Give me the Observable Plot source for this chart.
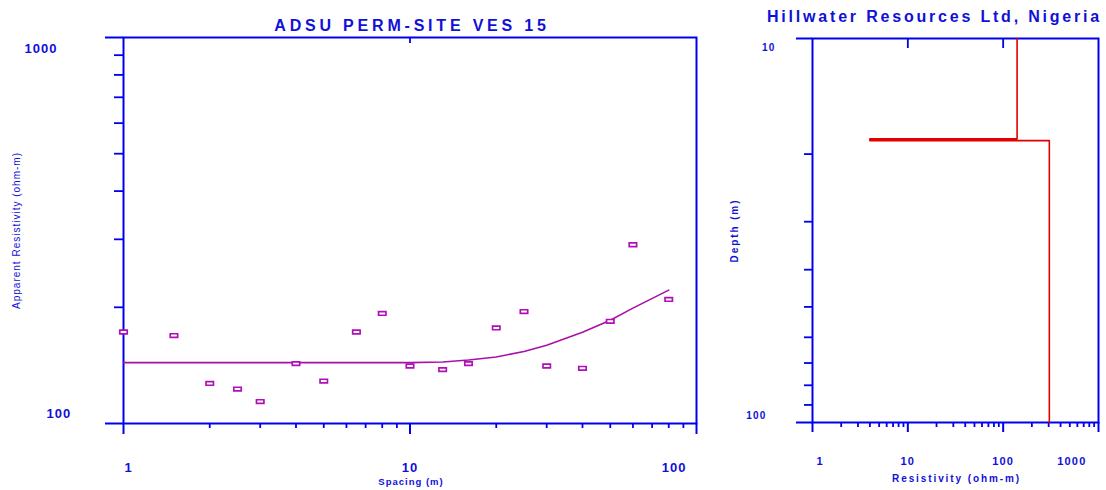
<!DOCTYPE html>
<html>
<head>
<meta charset="utf-8">
<script src="https://cdn.jsdelivr.net/npm/d3@7"></script>
<script src="https://cdn.jsdelivr.net/npm/@observablehq/plot@0.6"></script>
<style>
  html, body { margin: 0; padding: 0; background: #fff; }
  #chart { position: relative; width: 1106px; height: 490px; overflow: hidden; }
  #chart svg { position: absolute; top: 0; }
</style>
</head>
<body>
<div id="chart"></div>
<script>
// ---- Sounding curve: field readings (AB/2 spacing, apparent resistivity) ----
const spacing     = [1, 1.5, 2, 2.5, 3, 4, 5, 6.5, 8, 10, 13, 16, 20, 25, 30, 40, 50, 60, 80];
const apparentRho = [172.6, 169, 127, 122.8, 114, 142.9, 128.8, 172.6, 192.8, 140.9,
                     137.9, 142.9, 176.8, 195, 140.9, 139, 184, 290.5, 209.6];

// ---- Model response curve ----
const modelSpacing = [1, 10, 13, 16, 20, 25, 30, 40, 50, 60, 80];
const modelRho     = [143.8, 143.8, 144.3, 146, 148.7, 153.6, 159.5, 172.3, 185.2, 199, 221.6];

// ---- Layered earth model (resistivity per layer, depth to base of each layer) ----
const layerResistivity = [140, 4, 305];
const layerBase        = [18.25, 18.45];
const depthRange       = [10, 100];

// ---- Axis ticks and labels ----
const spacingMajor  = [1, 10, 100];
const spacingMinor  = [2, 3, 4, 5, 6, 7, 8, 9, 20, 30, 40, 50, 60, 70, 80, 90];
const spacingLabels = ["1", "10", "100"];
const spacingTop    = [10];
const rhoMajor      = [100, 1000];
const rhoMinor      = [200, 300, 400, 500, 600, 700, 800, 900];
const rhoLabels     = ["100", "1000"];

const resMajor  = [1, 10, 100, 1000];
const resMinor  = [2, 3, 4, 5, 6, 7, 8, 9, 20, 30, 40, 50, 60, 70, 80, 90,
                   200, 300, 400, 500, 600, 700, 800, 900];
const resLabels = ["1", "10", "100", "1000"];
const resTop    = [10, 100];
const depthMajor  = [10, 100];
const depthMinor  = [20, 30, 40, 50, 60, 70, 80, 90];
const depthLabels = ["10", "100"];

const leftTitle  = "ADSU PERM-SITE VES 15";
const rightTitle = "Hillwater Resources Ltd, Nigeria";

// ---- Styling ----
const BLUE = "#0000ee";
const INK = "#1010d8";
const FONT = "'Liberation Sans', Arial, Helvetica, sans-serif";

const readings = spacing.map((s, i) => ({spacing: s, rho: apparentRho[i]}));
const model = modelSpacing.map((s, i) => ({spacing: s, rho: modelRho[i]}));

// step profile of the layered model, top to bottom
const profile = [];
let layerTop = depthRange[0];
layerResistivity.forEach((r, i) => {
  const base = i < layerBase.length ? layerBase[i] : depthRange[1];
  profile.push({res: r, depth: layerTop}, {res: r, depth: base});
  layerTop = base;
});

// open rectangle used for the field readings
const boxSymbol = {
  draw(ctx) {
    ctx.moveTo(-3.7, -1.8);
    ctx.lineTo(3.7, -1.8);
    ctx.lineTo(3.7, 1.8);
    ctx.lineTo(-3.7, 1.8);
    ctx.closePath();
  }
};

const txt = {fill: INK, fontFamily: FONT, lineAnchor: "middle"};
const label = (values, labels, i, o) =>
  Plot.text([{v: values[i], t: labels[i]}], {text: "t", ...txt, ...o});

// ================= Sounding curve panel =================
const LH = 490 - 37 - 67;
const left = Plot.plot({
  width: 720, height: 490,
  marginLeft: 123, marginRight: 24, marginTop: 37, marginBottom: 67,
  x: {type: "log", domain: [1, 100]},
  y: {type: "log", domain: [100, 1000]},
  style: {fontFamily: FONT, background: "transparent", overflow: "visible"},
  marks: [
    Plot.axisY(rhoMajor, {anchor: "left", tickSize: 18, tickFormat: () => "", label: null, stroke: BLUE, strokeWidth: 2}),
    Plot.axisY(rhoMinor, {anchor: "left", tickSize: 9, tickFormat: () => "", label: null, stroke: BLUE, strokeWidth: 1.8}),
    Plot.axisX(spacingMajor, {anchor: "bottom", tickSize: 11, tickFormat: () => "", label: null, stroke: BLUE, strokeWidth: 2}),
    Plot.axisX(spacingMinor, {anchor: "bottom", tickSize: 5, tickFormat: () => "", label: null, stroke: BLUE, strokeWidth: 1.8}),
    Plot.ruleX(spacingTop, {insetBottom: LH - 6, stroke: BLUE, strokeWidth: 1.8}),
    Plot.frame({stroke: BLUE, strokeWidth: 2}),
    Plot.line(model, {x: "spacing", y: "rho", stroke: "#a810a8", strokeWidth: 1.6}),
    Plot.dot(readings, {x: "spacing", y: "rho", symbol: boxSymbol, stroke: "#b010b8", fill: "white", strokeWidth: 1.7}),
    // tick labels
    label(spacingMajor, spacingLabels, 0, {x: "v", frameAnchor: "bottom", dy: 44, dx: 1, textAnchor: "start", fontSize: 13, fontWeight: "bold"}),
    label(spacingMajor, spacingLabels, 1, {x: "v", frameAnchor: "bottom", dy: 44, textAnchor: "middle", fontSize: 13, fontWeight: "bold"}),
    label(spacingMajor, spacingLabels, 2, {x: "v", frameAnchor: "bottom", dy: 44, dx: -10, textAnchor: "end", fontSize: 13, fontWeight: "bold"}),
    label(rhoMajor, rhoLabels, 0, {y: "v", frameAnchor: "left", dx: -77, dy: -10, textAnchor: "start", fontSize: 13, fontWeight: "bold"}),
    label(rhoMajor, rhoLabels, 1, {y: "v", frameAnchor: "left", dx: -99, dy: 11, textAnchor: "start", fontSize: 13, fontWeight: "bold"}),
    // titles
    Plot.text([leftTitle], {text: d => d, frameAnchor: "top", dy: -12, dx: 2, textAnchor: "middle", ...txt, fontSize: 16, fontWeight: "bold"}),
    Plot.text(["Spacing (m)"], {text: d => d, frameAnchor: "bottom", dy: 58, dx: 1, textAnchor: "middle", ...txt, fontSize: 9.5, fontWeight: "bold"}),
    Plot.text(["Apparent Resistivity (ohm-m)"], {text: d => d, frameAnchor: "left", dx: -107, rotate: -90, textAnchor: "middle", ...txt, fontSize: 10})
  ]
});
left.style.left = "0px";

// ================= Layer model panel =================
const RH = 490 - 38 - 68;
const right = Plot.plot({
  width: 386, height: 490,
  marginLeft: 92, marginRight: 8, marginTop: 38, marginBottom: 68,
  x: {type: "log", domain: [1, 1000]},
  y: {type: "log", domain: depthRange, reverse: true},
  style: {fontFamily: FONT, background: "transparent", overflow: "visible"},
  marks: [
    Plot.axisY(depthMajor, {anchor: "left", tickSize: 16, tickFormat: () => "", label: null, stroke: BLUE, strokeWidth: 2}),
    Plot.axisY(depthMinor, {anchor: "left", tickSize: 8, tickFormat: () => "", label: null, stroke: BLUE, strokeWidth: 1.8}),
    Plot.axisX(resMajor, {anchor: "bottom", tickSize: 10, tickFormat: () => "", label: null, stroke: BLUE, strokeWidth: 2}),
    Plot.axisX(resMinor, {anchor: "bottom", tickSize: 5, tickFormat: () => "", label: null, stroke: BLUE, strokeWidth: 1.8}),
    Plot.ruleX(resTop, {insetBottom: RH - 10, stroke: BLUE, strokeWidth: 1.8}),
    Plot.frame({stroke: BLUE, strokeWidth: 2}),
    Plot.line(profile, {x: "res", y: "depth", stroke: "#e00000", strokeWidth: 1.6}),
    // tick labels
    label(resMajor, resLabels, 0, {x: "v", frameAnchor: "bottom", dy: 39, dx: 4, textAnchor: "start", fontSize: 11, fontWeight: "bold"}),
    label(resMajor, resLabels, 1, {x: "v", frameAnchor: "bottom", dy: 39, textAnchor: "middle", fontSize: 11, fontWeight: "bold"}),
    label(resMajor, resLabels, 2, {x: "v", frameAnchor: "bottom", dy: 39, textAnchor: "middle", fontSize: 11, fontWeight: "bold"}),
    label(resMajor, resLabels, 3, {x: "v", frameAnchor: "bottom", dy: 39, dx: -12, textAnchor: "end", fontSize: 11, fontWeight: "bold"}),
    label(depthMajor, depthLabels, 0, {y: "v", frameAnchor: "left", dx: -37, dy: 9, textAnchor: "end", fontSize: 10, fontWeight: "bold"}),
    label(depthMajor, depthLabels, 1, {y: "v", frameAnchor: "left", dx: -46, dy: -7, textAnchor: "end", fontSize: 10, fontWeight: "bold"}),
    // titles
    Plot.text([rightTitle], {text: d => d, frameAnchor: "top", dy: -22, dx: -21, textAnchor: "middle", ...txt, fontSize: 16, fontWeight: "bold"}),
    Plot.text(["Resistivity (ohm-m)"], {text: d => d, frameAnchor: "bottom", dy: 56, dx: 1, textAnchor: "middle", ...txt, fontSize: 10, fontWeight: "bold"}),
    Plot.text(["Depth (m)"], {text: d => d, frameAnchor: "left", dx: -78, rotate: -90, textAnchor: "middle", ...txt, fontSize: 10, fontWeight: "bold"})
  ]
});
right.style.left = "720px";

// letter spacing of each piece of text, per panel
const leftSpacing = {
  "1": 1, "10": 1, "100": 1, "1000": 1,
  [leftTitle]: 3.8, "Spacing (m)": 1, "Apparent Resistivity (ohm-m)": 1
};
const rightSpacing = {
  "1": 1.2, "10": 1.2, "100": 1.2, "1000": 1.2,
  [rightTitle]: 2.8, "Resistivity (ohm-m)": 1.9, "Depth (m)": 1.9
};
for (const [svg, table] of [[left, leftSpacing], [right, rightSpacing]]) {
  d3.select(svg).selectAll("text").each(function () {
    const ls = table[this.textContent];
    if (ls != null) this.style.letterSpacing = ls + "px";
  });
}

document.getElementById("chart").append(left, right);
</script>
</body>
</html>
